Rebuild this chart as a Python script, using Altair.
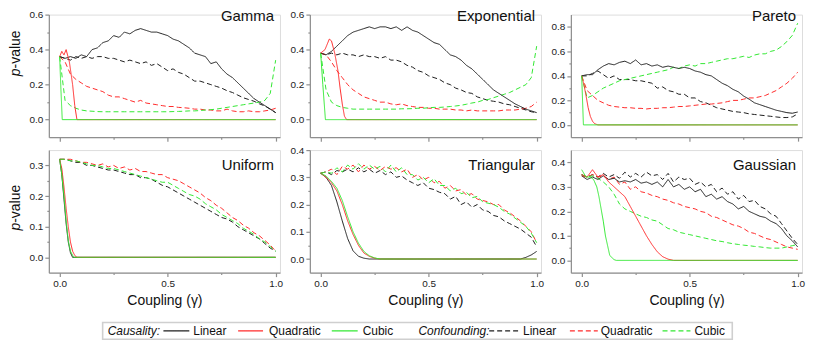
import json
import altair as alt
import pandas as pd

FONT = "Liberation Sans"

# shared coupling grid for the noisy curves
GRID = [0.0, 0.025, 0.05, 0.075, 0.1, 0.125, 0.15, 0.175, 0.2, 0.225,
        0.25, 0.275, 0.3, 0.325, 0.35, 0.375, 0.4, 0.425, 0.45, 0.475,
        0.5, 0.525, 0.55, 0.575, 0.6, 0.625, 0.65, 0.675, 0.7, 0.725,
        0.75, 0.775, 0.8, 0.825, 0.85, 0.875, 0.9, 0.925, 0.95, 0.975, 1.0]

# ---------------- Gamma ----------------
G_CAUS_LIN = [0.36, 0.35, 0.36, 0.35, 0.37, 0.36, 0.40, 0.41, 0.44, 0.45,
              0.48, 0.47, 0.50, 0.49, 0.51, 0.52, 0.51, 0.50, 0.50, 0.49,
              0.48, 0.46, 0.45, 0.43, 0.41, 0.38, 0.37, 0.36, 0.32, 0.33,
              0.29, 0.26, 0.24, 0.21, 0.18, 0.15, 0.12, 0.10, 0.08, 0.06, 0.04]
G_CONF_LIN = [0.36, 0.35, 0.34, 0.36, 0.35, 0.36, 0.35, 0.36, 0.36, 0.35,
              0.35, 0.34, 0.33, 0.34, 0.33, 0.32, 0.33, 0.31, 0.32, 0.30,
              0.28, 0.29, 0.27, 0.26, 0.24, 0.22, 0.22, 0.21, 0.20, 0.19,
              0.18, 0.165, 0.155, 0.14, 0.125, 0.115, 0.105, 0.09, 0.078, 0.06, 0.04]
G_CONF_QUAD = [0.36, 0.33, 0.26, 0.23, 0.21, 0.19, 0.18, 0.17, 0.16, 0.14,
               0.13, 0.13, 0.12, 0.11, 0.10, 0.11, 0.095, 0.09, 0.085, 0.08,
               0.075, 0.075, 0.07, 0.068, 0.065, 0.06, 0.06, 0.055, 0.055, 0.05,
               0.05, 0.06, 0.05, 0.045, 0.045, 0.05, 0.045, 0.045, 0.05, 0.055, 0.065]
G_CONF_CUB = [0.36, 0.11, 0.08, 0.065, 0.055, 0.05, 0.048, 0.046, 0.045, 0.045,
              0.045, 0.045, 0.045, 0.045, 0.045, 0.045, 0.045, 0.045, 0.045, 0.045,
              0.045, 0.046, 0.047, 0.048, 0.05, 0.05, 0.052, 0.055, 0.057, 0.06,
              0.065, 0.07, 0.075, 0.08, 0.085, 0.09, 0.095, 0.10, 0.11, 0.15, 0.34]
G_CAUS_QUAD_X = [0.0, 0.01, 0.02, 0.03, 0.045, 0.06, 0.07, 0.08, 1.0]
G_CAUS_QUAD = [0.36, 0.39, 0.37, 0.40, 0.33, 0.20, 0.08, 0.0, 0.0]
G_CAUS_CUB_X = [0.0, 0.006, 0.012, 1.0]
G_CAUS_CUB = [0.36, 0.17, 0.0, 0.0]

# ---------------- Exponential ----------------
E_CAUS_LIN = [0.38, 0.37, 0.39, 0.42, 0.45, 0.48, 0.50, 0.51, 0.52, 0.53,
              0.52, 0.53, 0.53, 0.52, 0.53, 0.51, 0.53, 0.51, 0.50, 0.48,
              0.46, 0.44, 0.43, 0.40, 0.37, 0.36, 0.34, 0.31, 0.29, 0.26,
              0.23, 0.20, 0.17, 0.15, 0.13, 0.11, 0.09, 0.075, 0.06, 0.05, 0.04]
E_CONF_LIN = [0.38, 0.37, 0.38, 0.37, 0.38, 0.37, 0.37, 0.36, 0.37, 0.36,
              0.36, 0.35, 0.36, 0.34, 0.34, 0.33, 0.31, 0.30, 0.28, 0.27,
              0.25, 0.24, 0.23, 0.21, 0.20, 0.18, 0.17, 0.155, 0.15, 0.13,
              0.12, 0.11, 0.105, 0.10, 0.09, 0.085, 0.075, 0.065, 0.055, 0.045, 0.04]
E_CONF_QUAD = [0.38, 0.37, 0.33, 0.28, 0.24, 0.20, 0.17, 0.15, 0.13, 0.12,
               0.11, 0.10, 0.10, 0.09, 0.085, 0.09, 0.08, 0.075, 0.07, 0.07,
               0.065, 0.065, 0.06, 0.06, 0.06, 0.055, 0.055, 0.05, 0.055, 0.05,
               0.05, 0.05, 0.05, 0.05, 0.055, 0.055, 0.055, 0.06, 0.065, 0.075, 0.10]
E_CONF_CUB = [0.38, 0.17, 0.10, 0.08, 0.07, 0.065, 0.06, 0.06, 0.06, 0.06,
              0.06, 0.06, 0.06, 0.06, 0.06, 0.062, 0.062, 0.063, 0.065, 0.065,
              0.068, 0.07, 0.07, 0.072, 0.075, 0.078, 0.082, 0.088, 0.095, 0.10,
              0.11, 0.115, 0.125, 0.135, 0.145, 0.155, 0.17, 0.185, 0.20, 0.24, 0.42]
E_CAUS_QUAD_X = [0.0, 0.02, 0.04, 0.05, 0.065, 0.08, 0.09, 0.1, 0.11, 0.12, 1.0]
E_CAUS_QUAD = [0.38, 0.40, 0.46, 0.45, 0.38, 0.28, 0.18, 0.09, 0.02, 0.0, 0.0]
E_CAUS_CUB_X = [0.0, 0.01, 0.022, 1.0]
E_CAUS_CUB = [0.38, 0.20, 0.0, 0.0]

# ---------------- Pareto ----------------
P_CAUS_LIN = [0.40, 0.41, 0.41, 0.45, 0.48, 0.50, 0.49, 0.51, 0.52, 0.50,
              0.53, 0.49, 0.50, 0.48, 0.49, 0.47, 0.48, 0.47, 0.46, 0.47,
              0.46, 0.44, 0.43, 0.41, 0.40, 0.37, 0.34, 0.32, 0.29, 0.27,
              0.235, 0.21, 0.18, 0.165, 0.15, 0.135, 0.12, 0.11, 0.10, 0.095, 0.105]
P_CONF_LIN = [0.40, 0.40, 0.42, 0.44, 0.41, 0.38, 0.40, 0.37, 0.37, 0.37,
              0.36, 0.36, 0.35, 0.34, 0.30, 0.31, 0.28, 0.27, 0.25, 0.25,
              0.22, 0.22, 0.19, 0.18, 0.16, 0.14, 0.13, 0.12, 0.11, 0.105,
              0.10, 0.09, 0.085, 0.08, 0.075, 0.07, 0.065, 0.06, 0.06, 0.065, 0.09]
P_CONF_QUAD = [0.40, 0.28, 0.24, 0.20, 0.18, 0.16, 0.15, 0.145, 0.14, 0.14,
               0.135, 0.135, 0.13, 0.135, 0.135, 0.14, 0.14, 0.145, 0.15, 0.15,
               0.155, 0.16, 0.165, 0.17, 0.17, 0.175, 0.18, 0.19, 0.20, 0.20,
               0.21, 0.22, 0.22, 0.23, 0.24, 0.26, 0.28, 0.31, 0.34, 0.38, 0.43]
P_CONF_CUB = [0.40, 0.22, 0.24, 0.27, 0.30, 0.32, 0.34, 0.36, 0.37, 0.38,
              0.39, 0.40, 0.41, 0.42, 0.43, 0.44, 0.45, 0.47, 0.46, 0.48,
              0.49, 0.48, 0.50, 0.50, 0.51, 0.52, 0.53, 0.54, 0.54, 0.55,
              0.56, 0.55, 0.57, 0.58, 0.58, 0.60, 0.61, 0.64, 0.68, 0.73, 0.83]
P_CAUS_QUAD_X = [0.0, 0.01, 0.02, 0.03, 0.04, 0.05, 0.06, 0.075, 1.0]
P_CAUS_QUAD = [0.40, 0.33, 0.24, 0.14, 0.07, 0.03, 0.01, 0.0, 0.0]
P_CAUS_CUB_X = [0.0, 0.008, 1.0]
P_CAUS_CUB = [0.40, 0.0, 0.0]

# ---------------- Uniform ----------------
U_CONF_LIN = [0.32, 0.32, 0.315, 0.31, 0.31, 0.30, 0.30, 0.295, 0.29, 0.285,
              0.285, 0.28, 0.275, 0.27, 0.27, 0.26, 0.26, 0.255, 0.245, 0.235,
              0.23, 0.22, 0.21, 0.20, 0.19, 0.18, 0.17, 0.16, 0.15, 0.14,
              0.13, 0.125, 0.115, 0.10, 0.09, 0.08, 0.07, 0.06, 0.045, 0.03, 0.02]
U_CONF_QUAD = [0.32, 0.32, 0.32, 0.315, 0.31, 0.31, 0.305, 0.30, 0.305, 0.295,
               0.30, 0.29, 0.295, 0.285, 0.29, 0.28, 0.28, 0.275, 0.27, 0.27,
               0.26, 0.255, 0.25, 0.24, 0.23, 0.22, 0.21, 0.195, 0.185, 0.17,
               0.16, 0.145, 0.13, 0.12, 0.105, 0.095, 0.08, 0.07, 0.055, 0.04, 0.02]
U_CONF_CUB = [0.32, 0.32, 0.315, 0.315, 0.31, 0.305, 0.30, 0.30, 0.295, 0.29,
              0.29, 0.285, 0.28, 0.275, 0.27, 0.265, 0.26, 0.255, 0.25, 0.245,
              0.245, 0.235, 0.225, 0.215, 0.205, 0.20, 0.19, 0.175, 0.165, 0.155,
              0.14, 0.13, 0.12, 0.11, 0.095, 0.085, 0.075, 0.06, 0.05, 0.035, 0.02]
U_CAUS_LIN_X = [0.0, 0.01, 0.02, 0.03, 0.04, 0.05, 0.06, 1.0]
U_CAUS_LIN = [0.32, 0.27, 0.19, 0.11, 0.05, 0.015, 0.0, 0.0]
U_CAUS_QUAD_X = [0.0, 0.01, 0.02, 0.03, 0.04, 0.05, 0.06, 0.07, 0.08, 1.0]
U_CAUS_QUAD = [0.32, 0.29, 0.23, 0.16, 0.10, 0.05, 0.02, 0.006, 0.0, 0.0]
U_CAUS_CUB_X = [0.0, 0.01, 0.02, 0.03, 0.04, 0.05, 0.065, 1.0]
U_CAUS_CUB = [0.32, 0.27, 0.20, 0.12, 0.055, 0.02, 0.0, 0.0]

# ---------------- Triangular ----------------
T_CONF_LIN = [0.315, 0.32, 0.31, 0.325, 0.32, 0.33, 0.32, 0.335, 0.32, 0.33,
              0.315, 0.325, 0.31, 0.32, 0.30, 0.305, 0.29, 0.28, 0.27, 0.28,
              0.26, 0.255, 0.245, 0.24, 0.22, 0.23, 0.20, 0.21, 0.19, 0.20,
              0.18, 0.175, 0.16, 0.155, 0.14, 0.13, 0.12, 0.11, 0.095, 0.08, 0.045]
T_CONF_QUAD = [0.315, 0.32, 0.33, 0.31, 0.34, 0.33, 0.345, 0.32, 0.345, 0.33,
               0.34, 0.325, 0.34, 0.33, 0.335, 0.32, 0.33, 0.30, 0.31, 0.29,
               0.30, 0.28, 0.285, 0.26, 0.27, 0.25, 0.255, 0.235, 0.24, 0.22,
               0.215, 0.21, 0.20, 0.20, 0.18, 0.17, 0.155, 0.14, 0.12, 0.10, 0.06]
T_CONF_CUB = [0.315, 0.32, 0.315, 0.335, 0.32, 0.345, 0.33, 0.35, 0.33, 0.345,
              0.33, 0.34, 0.32, 0.345, 0.32, 0.335, 0.31, 0.31, 0.29, 0.30,
              0.28, 0.295, 0.27, 0.27, 0.25, 0.26, 0.24, 0.245, 0.225, 0.23,
              0.21, 0.205, 0.20, 0.19, 0.175, 0.165, 0.15, 0.135, 0.12, 0.095, 0.06]
T_CAUS_LIN_X = [0.0, 0.025, 0.05, 0.075, 0.1, 0.125, 0.15, 0.175, 0.2, 0.225,
                0.925, 0.95, 0.975, 1.0]
T_CAUS_LIN = [0.315, 0.30, 0.27, 0.21, 0.14, 0.075, 0.03, 0.01, 0.003, 0.0,
              0.0, 0.006, 0.015, 0.028]
T_CAUS_QC_X = [0.0, 0.025, 0.05, 0.075, 0.1, 0.125, 0.15, 0.175, 0.2, 0.225,
               0.25, 0.275, 1.0]
T_CAUS_QUAD = [0.315, 0.30, 0.28, 0.25, 0.20, 0.14, 0.09, 0.05, 0.022, 0.01,
               0.003, 0.0, 0.0]
T_CAUS_CUB = [0.315, 0.305, 0.285, 0.26, 0.215, 0.155, 0.10, 0.058, 0.028, 0.012,
              0.004, 0.0, 0.0]

# ---------------- Gaussian ----------------
N_CAUS_LIN = [0.345, 0.33, 0.34, 0.33, 0.345, 0.33, 0.335, 0.32, 0.325, 0.32,
              0.33, 0.315, 0.32, 0.31, 0.32, 0.30, 0.33, 0.30, 0.31, 0.29,
              0.30, 0.28, 0.29, 0.26, 0.27, 0.25, 0.26, 0.24, 0.23, 0.21,
              0.22, 0.20, 0.19, 0.18, 0.175, 0.16, 0.15, 0.13, 0.10, 0.08, 0.055]
N_CONF_LIN = [0.35, 0.34, 0.35, 0.34, 0.355, 0.34, 0.35, 0.335, 0.36, 0.34,
              0.355, 0.34, 0.36, 0.345, 0.35, 0.33, 0.355, 0.32, 0.34, 0.33,
              0.335, 0.31, 0.32, 0.30, 0.31, 0.28, 0.295, 0.27, 0.28, 0.25,
              0.265, 0.24, 0.245, 0.22, 0.21, 0.19, 0.18, 0.15, 0.12, 0.09, 0.065]
N_CONF_QUAD = [0.345, 0.34, 0.35, 0.34, 0.345, 0.33, 0.34, 0.31, 0.32, 0.29,
               0.30, 0.28, 0.275, 0.265, 0.26, 0.25, 0.245, 0.235, 0.23, 0.22,
               0.215, 0.21, 0.20, 0.195, 0.18, 0.175, 0.165, 0.155, 0.145, 0.14,
               0.13, 0.115, 0.11, 0.10, 0.09, 0.085, 0.075, 0.065, 0.055, 0.05, 0.045]
N_CONF_CUB = [0.35, 0.34, 0.345, 0.335, 0.32, 0.30, 0.27, 0.23, 0.21, 0.20,
              0.19, 0.18, 0.175, 0.165, 0.16, 0.145, 0.13, 0.125, 0.115, 0.11,
              0.105, 0.10, 0.095, 0.09, 0.085, 0.08, 0.077, 0.072, 0.068, 0.065,
              0.062, 0.06, 0.057, 0.055, 0.052, 0.05, 0.05, 0.05, 0.055, 0.06, 0.065]
N_CAUS_QUAD_X = [0.0, 0.025, 0.05, 0.075, 0.1, 0.125, 0.15, 0.175, 0.2, 0.225,
                 0.25, 0.275, 0.3, 0.325, 0.35, 0.375, 0.4, 0.425, 1.0]
N_CAUS_QUAD = [0.35, 0.34, 0.37, 0.34, 0.35, 0.32, 0.30, 0.28, 0.26, 0.22,
               0.18, 0.14, 0.10, 0.065, 0.035, 0.015, 0.005, 0.0, 0.0]
N_CAUS_CUB_X = [0.0, 0.02, 0.04, 0.055, 0.07, 0.08, 0.09, 0.1, 0.11, 0.12,
                0.13, 0.15, 0.16, 1.0]
N_CAUS_CUB = [0.37, 0.34, 0.34, 0.33, 0.30, 0.26, 0.21, 0.16, 0.10, 0.06,
              0.02, 0.003, 0.0, 0.0]

FUNCS = ["Linear", "Quadratic", "Cubic"]
KINDS = ["Causality", "Confounding"]
COLORS = ["#1e1e1e", "#ff2b2b", "#33e833"]
DASHES = [[1, 0], [5, 3]]

PANELS = [
    dict(name="Gamma", ydom=[-0.1, 0.6], yticks=[0.0, 0.1, 0.2, 0.3, 0.4, 0.5, 0.6],
         ymajor=[0.0, 0.2, 0.4, 0.6],
         series=[("Confounding", "Linear", GRID, G_CONF_LIN),
                 ("Confounding", "Quadratic", GRID, G_CONF_QUAD),
                 ("Confounding", "Cubic", GRID, G_CONF_CUB),
                 ("Causality", "Linear", GRID, G_CAUS_LIN),
                 ("Causality", "Quadratic", G_CAUS_QUAD_X, G_CAUS_QUAD),
                 ("Causality", "Cubic", G_CAUS_CUB_X, G_CAUS_CUB)]),
    dict(name="Exponential", ydom=[-0.1, 0.6], yticks=[0.0, 0.1, 0.2, 0.3, 0.4, 0.5, 0.6],
         ymajor=[0.0, 0.2, 0.4, 0.6],
         series=[("Confounding", "Linear", GRID, E_CONF_LIN),
                 ("Confounding", "Quadratic", GRID, E_CONF_QUAD),
                 ("Confounding", "Cubic", GRID, E_CONF_CUB),
                 ("Causality", "Linear", GRID, E_CAUS_LIN),
                 ("Causality", "Quadratic", E_CAUS_QUAD_X, E_CAUS_QUAD),
                 ("Causality", "Cubic", E_CAUS_CUB_X, E_CAUS_CUB)]),
    dict(name="Pareto", ydom=[-0.1, 0.9], yticks=[0.0, 0.1, 0.2, 0.3, 0.4, 0.5, 0.6, 0.7, 0.8],
         ymajor=[0.0, 0.2, 0.4, 0.6, 0.8],
         series=[("Confounding", "Linear", GRID, P_CONF_LIN),
                 ("Confounding", "Quadratic", GRID, P_CONF_QUAD),
                 ("Confounding", "Cubic", GRID, P_CONF_CUB),
                 ("Causality", "Linear", GRID, P_CAUS_LIN),
                 ("Causality", "Quadratic", P_CAUS_QUAD_X, P_CAUS_QUAD),
                 ("Causality", "Cubic", P_CAUS_CUB_X, P_CAUS_CUB)]),
    dict(name="Uniform", ydom=[-0.05, 0.35], yticks=[0.0, 0.05, 0.1, 0.15, 0.2, 0.25, 0.3],
         ymajor=[0.0, 0.1, 0.2, 0.3],
         series=[("Confounding", "Linear", GRID, U_CONF_LIN),
                 ("Confounding", "Quadratic", GRID, U_CONF_QUAD),
                 ("Confounding", "Cubic", GRID, U_CONF_CUB),
                 ("Causality", "Linear", U_CAUS_LIN_X, U_CAUS_LIN),
                 ("Causality", "Quadratic", U_CAUS_QUAD_X, U_CAUS_QUAD),
                 ("Causality", "Cubic", U_CAUS_CUB_X, U_CAUS_CUB)]),
    dict(name="Triangular", ydom=[-0.05, 0.4],
         yticks=[0.0, 0.05, 0.1, 0.15, 0.2, 0.25, 0.3, 0.35, 0.4],
         ymajor=[0.0, 0.1, 0.2, 0.3, 0.4],
         series=[("Confounding", "Linear", GRID, T_CONF_LIN),
                 ("Confounding", "Quadratic", GRID, T_CONF_QUAD),
                 ("Confounding", "Cubic", GRID, T_CONF_CUB),
                 ("Causality", "Linear", T_CAUS_LIN_X, T_CAUS_LIN),
                 ("Causality", "Quadratic", T_CAUS_QC_X, T_CAUS_QUAD),
                 ("Causality", "Cubic", T_CAUS_QC_X, T_CAUS_CUB)]),
    dict(name="Gaussian", ydom=[-0.05, 0.45],
         yticks=[0.0, 0.05, 0.1, 0.15, 0.2, 0.25, 0.3, 0.35, 0.4],
         ymajor=[0.0, 0.1, 0.2, 0.3, 0.4],
         series=[("Confounding", "Linear", GRID, N_CONF_LIN),
                 ("Confounding", "Quadratic", GRID, N_CONF_QUAD),
                 ("Confounding", "Cubic", GRID, N_CONF_CUB),
                 ("Causality", "Linear", GRID, N_CAUS_LIN),
                 ("Causality", "Quadratic", N_CAUS_QUAD_X, N_CAUS_QUAD),
                 ("Causality", "Cubic", N_CAUS_CUB_X, N_CAUS_CUB)]),
]

XDOM = [-0.05, 1.02]
XTICKS = [0.0, 0.25, 0.5, 0.75, 1.0]
XMAJOR = [0.0, 0.5, 1.0]

# layout (pixels)
W, H = 232, 123
COL_GAP, ROW_GAP = 30, 13
PLOT_LEFT, PLOT_TOP = 49, 12
AX = "#8f8f8f"

# legend layout in page pixels
LEG_BOX = dict(x1=103, x2=735, y1=321, y2=338)
LEG_Y = 329.5
LEG_TEXT = [("Causality:", 108, True), ("Linear", 194, False), ("Quadratic", 270, False),
            ("Cubic", 364, False), ("Confounding:", 420, True), ("Linear", 525, False),
            ("Quadratic", 603, False), ("Cubic", 697, False)]
LEG_LINES = [("Causality", "Linear", 164, 190), ("Causality", "Quadratic", 239, 264),
             ("Causality", "Cubic", 333, 359), ("Confounding", "Linear", 491, 522),
             ("Confounding", "Quadratic", 572, 600), ("Confounding", "Cubic", 665, 693)]


def make_axis(values, majors, labels, title=None, **kw):
    arr = json.dumps(majors)
    return alt.Axis(
        values=values,
        labelExpr=f"indexof({arr}, datum.value) >= 0 ? format(datum.value, '.1f') : ''",
        tickSize={"condition": {"test": f"indexof({arr}, datum.value) < 0", "value": 2},
                  "value": 4},
        labels=labels, title=title, grid=False,
        domainColor=AX, domainWidth=1.2, tickColor=AX, tickWidth=1.2,
        labelColor="#222222", labelFont=FONT, labelFontSize=10, labelPadding=2,
        **kw)


color_enc = alt.Color("func:N", scale=alt.Scale(domain=FUNCS, range=COLORS), legend=None)
dash_enc = alt.StrokeDash("kind:N", scale=alt.Scale(domain=KINDS, range=DASHES), legend=None)

charts = []
for i, p in enumerate(PANELS):
    row, col = divmod(i, 3)
    rows = []
    for kind, func, xs, ys in p["series"]:
        if len(xs) != len(ys):
            raise ValueError(f"{p['name']} {kind} {func}: {len(xs)} vs {len(ys)}")
        for x, y in zip(xs, ys):
            rows.append(dict(kind=kind, func=func, sid=kind + func, x=x, y=y))
    df = pd.DataFrame(rows)

    if row == 1:
        xa = make_axis(XTICKS, XMAJOR, True, title="Coupling (γ)", titleFont=FONT,
                       titleFontSize=14, titleFontWeight="normal", titleColor="#111111",
                       titlePadding=5)
    else:
        xa = make_axis(XTICKS, XMAJOR, False)
    ya = make_axis(p["yticks"], p["ymajor"], True)

    lines = alt.Chart(df).mark_line(strokeWidth=1.0).encode(
        x=alt.X("x:Q", scale=alt.Scale(domain=XDOM, nice=False, zero=False), axis=xa),
        y=alt.Y("y:Q", scale=alt.Scale(domain=p["ydom"], nice=False, zero=False), axis=ya),
        color=color_enc,
        strokeDash=dash_enc,
        detail="sid:N",
    )
    title = alt.Chart(pd.DataFrame({"t": [p["name"]]})).mark_text(
        align="right", baseline="alphabetic", font=FONT, fontSize=15, color="#111111"
    ).encode(x=alt.value(W - 6), y=alt.value(6 if row == 0 else 20), text="t:N")
    layers = [lines, title]

    if col == 0:
        yc = 54 if row == 0 else 73
        ptxt = alt.Chart(pd.DataFrame({"t": ["p"]})).mark_text(
            angle=270, align="right", baseline="middle", font=FONT, fontSize=14,
            fontStyle="italic", color="#111111"
        ).encode(x=alt.value(-33), y=alt.value(yc), text="t:N")
        vtxt = alt.Chart(pd.DataFrame({"t": ["-value"]})).mark_text(
            angle=270, align="left", baseline="middle", font=FONT, fontSize=14,
            color="#111111"
        ).encode(x=alt.value(-33), y=alt.value(yc), text="t:N")
        layers += [ptxt, vtxt]

    if row == 1 and col == 1:
        ox = PLOT_LEFT + W + COL_GAP
        oy = PLOT_TOP + H + ROW_GAP
        box = pd.DataFrame([dict(x1=LEG_BOX["x1"] - ox, x2=LEG_BOX["x2"] - ox,
                                 y1=LEG_BOX["y1"] - oy, y2=LEG_BOX["y2"] - oy)])
        leg_box = alt.Chart(box).mark_rect(
            fill="white", stroke="#cfcfcf", strokeWidth=1.6
        ).encode(x=alt.X("x1:Q", scale=None), x2="x2:Q",
                 y=alt.Y("y1:Q", scale=None), y2="y2:Q")
        ltx = pd.DataFrame([dict(label=t, px=x - ox, py=LEG_Y - oy, it=it)
                            for t, x, it in LEG_TEXT])
        leg_it = alt.Chart(ltx[ltx["it"]]).mark_text(
            align="left", baseline="middle", font=FONT, fontSize=12,
            fontStyle="italic", color="#111111"
        ).encode(x=alt.X("px:Q", scale=None), y=alt.Y("py:Q", scale=None), text="label:N")
        leg_tx = alt.Chart(ltx[~ltx["it"]]).mark_text(
            align="left", baseline="middle", font=FONT, fontSize=12, color="#111111"
        ).encode(x=alt.X("px:Q", scale=None), y=alt.Y("py:Q", scale=None), text="label:N")
        lln = pd.DataFrame([dict(kind=k, func=f, x1=a - ox, x2=b - ox, py=LEG_Y - oy)
                            for k, f, a, b in LEG_LINES])
        leg_ln = alt.Chart(lln).mark_rule(strokeWidth=1.2).encode(
            x=alt.X("x1:Q", scale=None), x2="x2:Q", y=alt.Y("py:Q", scale=None),
            color=color_enc, strokeDash=dash_enc)
        layers += [leg_box, leg_ln, leg_it, leg_tx]

    charts.append(alt.layer(*layers).properties(width=W, height=H))

chart = alt.concat(
    *charts, columns=3, spacing=alt.RowColnumber(row=ROW_GAP, column=COL_GAP),
    bounds="flush"
).properties(
    padding={"left": 0, "top": -1, "right": 0, "bottom": 0}
).configure_view(stroke=None).configure(font=FONT, background="white")

chart.save("out.html", embed_options={"renderer": "svg", "actions": False})
